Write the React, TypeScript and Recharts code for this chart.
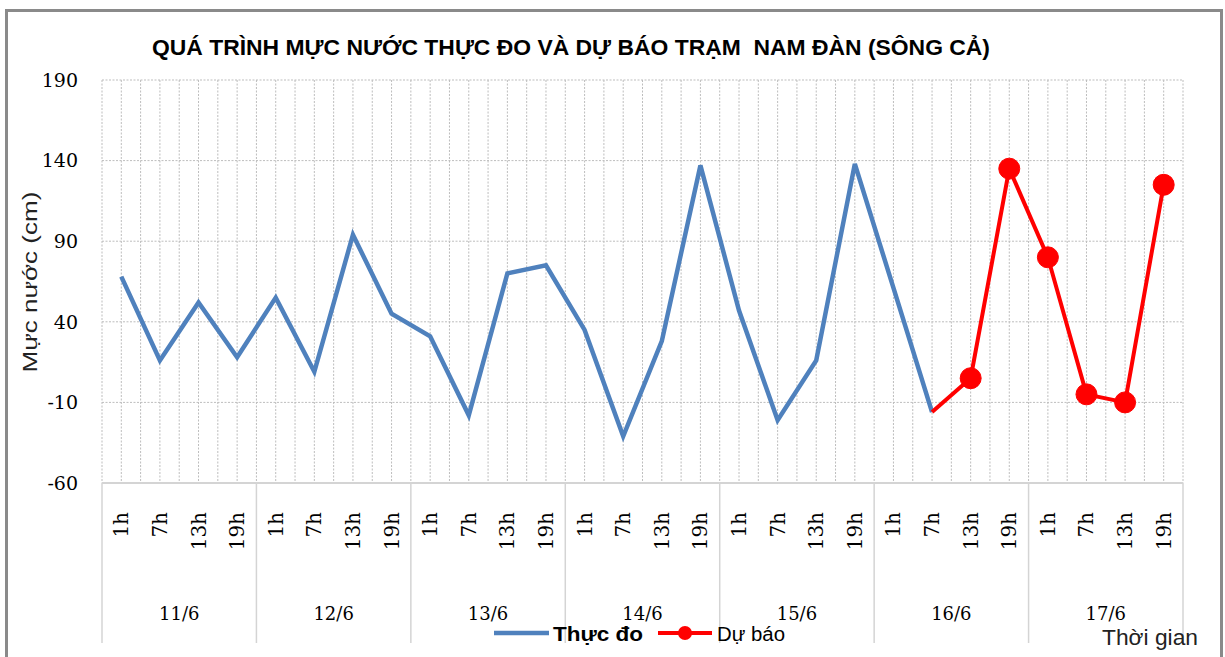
import React from "react";
import { LineChart, Line, XAxis, YAxis, CartesianGrid } from "recharts";

const DAYS = ["11/6", "12/6", "13/6", "14/6", "15/6", "16/6", "17/6"];
const HOURS = ["1h", "7h", "13h", "19h"];
const MEASURED: (number | null)[] = [
  68, 16, 52, 18, 55, 9, 94, 45, 31, -18, 70, 75, 35, -31, 28, 137, 47, -21, 16, 138, 61, -16,
];
const FORECAST: (number | null)[] = [
  null, null, null, null, null, null, null, null, null, null, null, null, null, null,
  null, null, null, null, null, null, null, -16, 5, 135, 80, -5, -10, 125,
];
const Y_TICKS = [190, 140, 90, 40, -10, -60];

const data = DAYS.flatMap((day, d) =>
  HOURS.map((hour, h) => {
    const i = d * 4 + h;
    return {
      key: `${day}-${hour}`,
      day,
      hour,
      measured: MEASURED[i] ?? null,
      forecast: FORECAST[i] ?? null,
    };
  })
);

const W = 1225;
const H = 657;
const M_TOP = 80;
const M_RIGHT = 42;
const Y_W = 102;
const X_H = 174;
const PLOT_W = W - Y_W - M_RIGHT;
const BAND = PLOT_W / data.length;

const SERIF = "'DejaVu Serif', 'Liberation Serif', serif";
const SANS = "'Liberation Sans', Arial, sans-serif";

const XTick = (props: any) => {
  const { x, y, payload } = props;
  const idx: number = payload.index;
  const item = data[idx];
  const els: React.ReactNode[] = [];
  els.push(
    <text
      key="h"
      transform={`translate(${x},${y + 29}) rotate(-90)`}
      textAnchor="end"
      dominantBaseline="central"
      fontFamily={SERIF}
      fontSize={20}
      fill="#000"
    >
      {item ? item.hour : payload.value}
    </text>
  );
  if (idx % 4 === 0) {
    const left = x - BAND / 2;
    els.push(<line key="s" x1={left} x2={left} y1={y} y2={y + 160} stroke="#d4d4d4" strokeWidth={1.5} />);
    els.push(
      <text
        key="d"
        x={x + BAND * 1.5}
        y={y + 137}
        textAnchor="middle"
        fontFamily={SERIF}
        fontSize={18}
        fill="#000"
      >
        {item ? item.day : ""}
      </text>
    );
  }
  if (idx === data.length - 1) {
    const right = x + BAND / 2;
    els.push(<line key="e" x1={right} x2={right} y1={y} y2={y + 160} stroke="#d4d4d4" strokeWidth={1.5} />);
  }
  return <g>{els}</g>;
};

const ForecastDot = (props: any) => {
  const { cx, cy, index, value } = props;
  if (value == null || cx == null || cy == null || MEASURED[index] != null) {
    return <g key={`fd-${index}`} />;
  }
  return <circle key={`fd-${index}`} cx={cx} cy={cy} r={10.5} fill="#FF0000" stroke="#FF0000" strokeWidth={1} />;
};

const verticalGen = (props: any) => {
  const off = props && props.offset ? props.offset : null;
  const left = off && typeof off.left === "number" ? off.left : Y_W;
  const w = off && typeof off.width === "number" ? off.width : PLOT_W;
  const n = data.length * 2;
  return Array.from({ length: n + 1 }, (_, i) => left + (i * w) / n);
};

export default function App() {
  return (
    <div style={{ position: "absolute", left: 0, top: 0, width: W, height: H, overflow: "hidden", background: "#fff" }}>
      <div
        style={{
          position: "absolute",
          left: 5,
          top: 9,
          width: 1218,
          height: 720,
          boxSizing: "border-box",
          border: "3px solid #8a8a8a",
        }}
      />
      <div style={{ position: "absolute", left: 0, top: 0 }}>
        <LineChart width={W} height={H} data={data} margin={{ top: M_TOP, right: M_RIGHT, bottom: 0, left: 0 }}>
          <CartesianGrid
            stroke="#bdbdbd"
            strokeDasharray="2 1.5"
            strokeWidth={1}
            verticalCoordinatesGenerator={verticalGen}
          />
          <XAxis
            dataKey="key"
            type="category"
            interval={0}
            height={X_H}
            padding={{ left: BAND / 2, right: BAND / 2 }}
            tickLine={false}
            tickSize={0}
            tickMargin={0}
            axisLine={{ stroke: "#d4d4d4", strokeWidth: 2 }}
            tick={<XTick />}
          />
          <YAxis
            type="number"
            domain={[-60, 190]}
            ticks={Y_TICKS}
            width={Y_W}
            axisLine={false}
            tickLine={false}
            tickSize={0}
            tickMargin={24}
            interval={0}
            tick={{ fontFamily: SERIF, fontSize: 19, fill: "#000" }}
          />
          <Line
            type="linear"
            dataKey="measured"
            name="Thực đo"
            stroke="#4F81BD"
            strokeWidth={4.5}
            dot={false}
            activeDot={false}
            isAnimationActive={false}
          />
          <Line
            type="linear"
            dataKey="forecast"
            name="Dự báo"
            stroke="#FF0000"
            strokeWidth={4}
            dot={<ForecastDot />}
            activeDot={false}
            isAnimationActive={false}
          />
        </LineChart>
      </div>
      <svg width={W} height={H} style={{ position: "absolute", left: 0, top: 0, pointerEvents: "none" }}>
        <text
          x={571}
          y={55}
          textAnchor="middle"
          fontFamily={SANS}
          fontWeight="bold"
          fontSize={22}
          textLength={838}
          lengthAdjust="spacingAndGlyphs"
          fill="#000"
          style={{ whiteSpace: "pre" }}
        >
          QUÁ TRÌNH MỰC NƯỚC THỰC ĐO VÀ DỰ BÁO TRẠM  NAM ĐÀN (SÔNG CẢ)
        </text>
        <text
          transform="translate(29,282) rotate(-90)"
          textAnchor="middle"
          dominantBaseline="central"
          fontFamily={SANS}
          fontSize={21}
          textLength={181}
          lengthAdjust="spacingAndGlyphs"
          fill="#222"
        >
          Mực nước (cm)
        </text>
        <line x1={494} x2={549} y1={633} y2={633} stroke="#4F81BD" strokeWidth={4.5} />
        <text x={553} y={641} fontFamily={SANS} fontWeight="bold" fontSize={21} textLength={90} lengthAdjust="spacingAndGlyphs" fill="#000">
          Thực đo
        </text>
        <line x1={658} x2={712} y1={633} y2={633} stroke="#FF0000" strokeWidth={4} />
        <circle cx={685} cy={633} r={7} fill="#FF0000" />
        <text x={717} y={641} fontFamily={SANS} fontSize={20} textLength={68} lengthAdjust="spacingAndGlyphs" fill="#000">
          Dự báo
        </text>
        <text x={1102} y={645} fontFamily={SANS} fontSize={22} textLength={96} lengthAdjust="spacingAndGlyphs" fill="#222">
          Thời gian
        </text>
      </svg>
    </div>
  );
}
